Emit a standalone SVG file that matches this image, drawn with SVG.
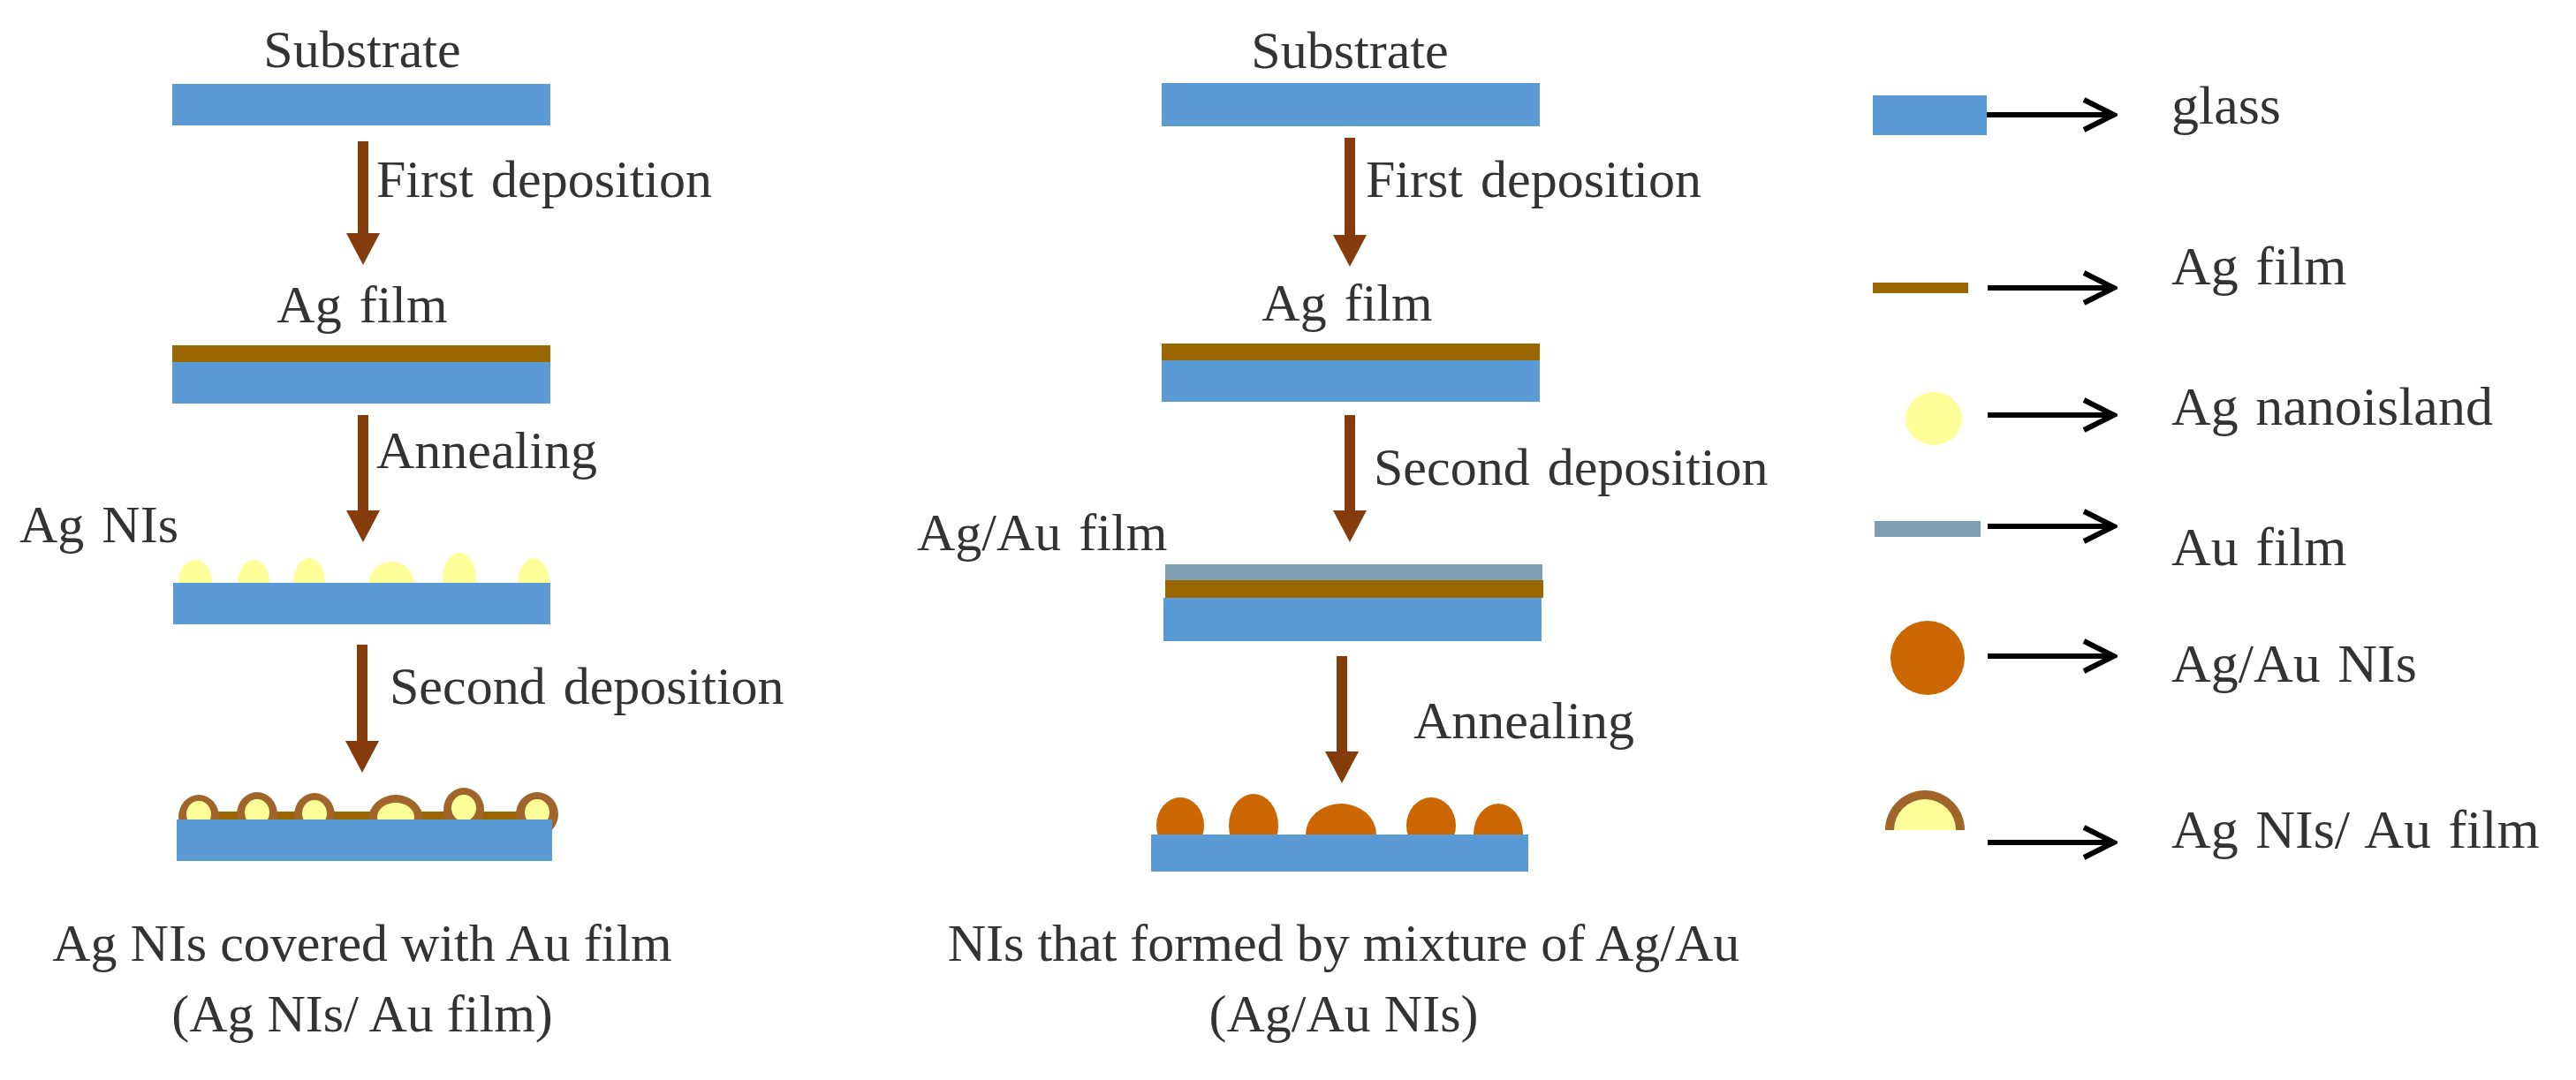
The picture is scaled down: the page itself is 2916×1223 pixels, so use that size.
<svg xmlns="http://www.w3.org/2000/svg" width="2916" height="1223" viewBox="0 0 2916 1223">
<defs>
<style>
text{font-family:"Liberation Serif","Times New Roman",serif;font-size:60px;fill:#333;word-spacing:5px}
.cap{word-spacing:0px}
.lg{font-size:62px;word-spacing:4px}
.glass{fill:#5b9bd5}
.ag{fill:#996600}
.au{fill:#7f9fb5}
.isl{fill:#ffff99}
.mix{fill:#cc6600}
.ring{fill:#a0652a}
.shaft{stroke:#843c0c;stroke-width:12;fill:none}
.head{fill:#843c0c}
.leg{stroke:#000;stroke-width:6;fill:none}
</style>
<marker id="open" markerWidth="40" markerHeight="40" refX="36" refY="20" orient="auto" markerUnits="userSpaceOnUse" viewBox="0 0 40 40"><path d="M2,3 L36,20 L2,37" fill="none" stroke="#000" stroke-width="6"/></marker>
</defs>
<rect width="2916" height="1223" fill="#fff"/>

<g id="left-substrate"><text x="410" y="76" text-anchor="middle">Substrate</text><rect class="glass" x="195" y="95" width="428" height="47"/></g>
<g id="left-agfilm"><text x="410" y="365" text-anchor="middle">Ag film</text><rect class="ag" x="195" y="391" width="428" height="19"/><rect class="glass" x="195" y="410" width="428" height="47"/></g>
<g id="left-agnis"><text x="22" y="614">Ag NIs</text>
<ellipse class="isl" cx="221" cy="660" rx="19" ry="26"/><ellipse class="isl" cx="287" cy="660" rx="18" ry="26"/><ellipse class="isl" cx="350" cy="660" rx="18" ry="28"/><ellipse class="isl" cx="443" cy="662" rx="26" ry="26"/><ellipse class="isl" cx="520" cy="655" rx="19" ry="29"/><ellipse class="isl" cx="604" cy="660" rx="18" ry="28"/>
<rect class="glass" x="196" y="660" width="427" height="47"/></g>
<g id="left-final">
<rect class="ag" x="205" y="919" width="415" height="10"/>
<ellipse class="ring" cx="225" cy="925" rx="23" ry="25"/><ellipse class="isl" cx="225" cy="922" rx="14" ry="15"/>
<ellipse class="ring" cx="291" cy="922" rx="23" ry="25"/><ellipse class="isl" cx="291" cy="920" rx="14" ry="15"/>
<ellipse class="ring" cx="356" cy="923" rx="23" ry="25"/><ellipse class="isl" cx="356" cy="921" rx="14" ry="15"/>
<ellipse class="ring" cx="448" cy="928" rx="31" ry="28"/><ellipse class="isl" cx="448" cy="925" rx="21" ry="16"/>
<ellipse class="ring" cx="525" cy="917" rx="23" ry="25"/><ellipse class="isl" cx="525" cy="915" rx="14" ry="15"/>
<ellipse class="ring" cx="608" cy="922" rx="24" ry="25"/><ellipse class="isl" cx="608" cy="920" rx="14" ry="15"/>
<rect class="glass" x="200" y="928" width="425" height="47"/>
<text class="cap" x="410" y="1088" text-anchor="middle">Ag NIs covered with Au film</text>
<text class="cap" x="410" y="1168" text-anchor="middle">(Ag NIs/ Au film)</text></g>

<g id="mid-substrate"><text x="1528" y="77" text-anchor="middle">Substrate</text><rect class="glass" x="1315" y="94" width="428" height="49"/></g>
<g id="mid-agfilm"><text x="1525" y="363" text-anchor="middle">Ag film</text><rect class="ag" x="1315" y="389" width="428" height="19"/><rect class="glass" x="1315" y="408" width="428" height="47"/></g>
<g id="mid-agaufilm"><text x="1038" y="623">Ag/Au film</text><rect class="au" x="1319" y="639" width="427" height="18"/><rect class="ag" x="1319" y="657" width="428" height="20"/><rect class="glass" x="1317" y="677" width="428" height="49"/></g>
<g id="mid-final">
<ellipse class="mix" cx="1336" cy="935" rx="27" ry="32"/><ellipse class="mix" cx="1419" cy="935" rx="28" ry="36"/><ellipse class="mix" cx="1518" cy="945" rx="40" ry="35"/><ellipse class="mix" cx="1620" cy="935" rx="28" ry="32"/><ellipse class="mix" cx="1696" cy="945" rx="28" ry="35"/>
<rect class="glass" x="1303" y="945" width="427" height="42"/>
<text class="cap" x="1521" y="1088" text-anchor="middle">NIs that formed by mixture of Ag/Au</text>
<text class="cap" x="1521" y="1168" text-anchor="middle">(Ag/Au NIs)</text></g>

<g id="connectors">
<line class="shaft" x1="411" y1="160" x2="411" y2="268"/><path class="head" d="M392,264 L430,264 L411,300Z"/>
<line class="shaft" x1="411" y1="470" x2="411" y2="582"/><path class="head" d="M392,578 L430,578 L411,614Z"/>
<line class="shaft" x1="410" y1="730" x2="410" y2="843"/><path class="head" d="M391,839 L429,839 L410,875Z"/>
<line class="shaft" x1="1528" y1="156" x2="1528" y2="270"/><path class="head" d="M1509,266 L1547,266 L1528,302Z"/>
<line class="shaft" x1="1528" y1="470" x2="1528" y2="582"/><path class="head" d="M1509,578 L1547,578 L1528,614Z"/>
<line class="shaft" x1="1519" y1="743" x2="1519" y2="855"/><path class="head" d="M1500,851 L1538,851 L1519,887Z"/>
<text x="426" y="223">First deposition</text>
<text x="426" y="530">Annealing</text>
<text x="441" y="797">Second deposition</text>
<text x="1546" y="223">First deposition</text>
<text x="1555" y="549">Second deposition</text>
<text x="1600" y="836">Annealing</text>
</g>

<g id="legend">
<rect class="glass" x="2120" y="108" width="129" height="45"/>
<line class="leg" x1="2249" y1="130" x2="2393" y2="130" marker-end="url(#open)"/>
<text class="lg" x="2458" y="140">glass</text>
<rect class="ag" x="2120" y="320" width="108" height="12"/>
<line class="leg" x1="2250" y1="326" x2="2393" y2="326" marker-end="url(#open)"/>
<text class="lg" x="2458" y="322">Ag film</text>
<ellipse class="isl" cx="2189" cy="474" rx="32" ry="30"/>
<line class="leg" x1="2250" y1="470" x2="2393" y2="470" marker-end="url(#open)"/>
<text class="lg" x="2458" y="481">Ag nanoisland</text>
<rect class="au" x="2122" y="590" width="120" height="18"/>
<line class="leg" x1="2250" y1="596" x2="2393" y2="596" marker-end="url(#open)"/>
<text class="lg" x="2458" y="640">Au film</text>
<circle class="mix" cx="2182" cy="745" r="42"/>
<line class="leg" x1="2250" y1="743" x2="2393" y2="743" marker-end="url(#open)"/>
<text class="lg" x="2458" y="772">Ag/Au NIs</text>
<path class="ring" d="M2134,940 A45,45 0 0 1 2224,940Z"/>
<path class="isl" d="M2144,940 A35,35 0 0 1 2214,940Z"/>
<line class="leg" x1="2250" y1="954" x2="2393" y2="954" marker-end="url(#open)"/>
<text class="lg" x="2458" y="960">Ag NIs/ Au film</text>
</g>
</svg>
